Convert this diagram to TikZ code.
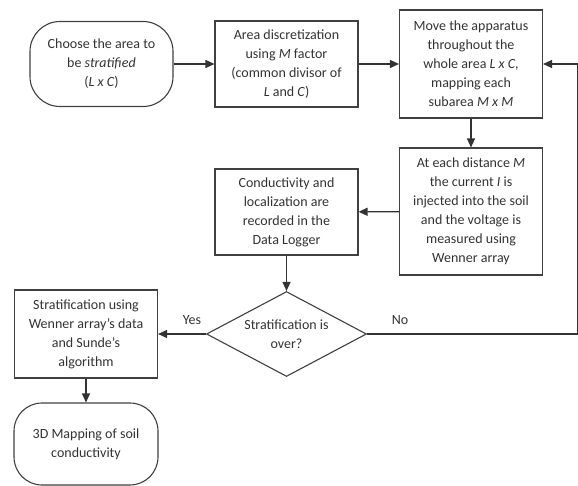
\documentclass[tikz,border=0pt]{standalone}
\usepackage{fontspec}
\setmainfont{Carlito}
\usepackage{tikz}
\usetikzlibrary{shapes.geometric,arrows.meta}
\pgfdeclarelayer{edgelayer}
\pgfdeclarelayer{nodelayer}
\pgfsetlayers{edgelayer,nodelayer,main}
\newcommand{\boxfont}{\fontsize{14}{19}\selectfont}
\tikzstyle{terminal}=[rectangle, rounded corners=30pt, fill=white, draw=black!75, line width=1.1pt, minimum width=143pt, minimum height=85pt, inner sep=0pt, align=center, text=black!80, font=\boxfont]
\tikzstyle{process}=[rectangle, fill=white, draw=black!75, line width=1.1pt, minimum width=143pt, inner sep=0pt, align=center, text=black!80, font=\boxfont]
\tikzstyle{decision}=[diamond, fill=white, draw=black!75, line width=1.1pt, minimum width=160pt, minimum height=85pt, inner sep=-15pt, align=center, text=black!80, font=\boxfont]
\tikzstyle{answer}=[text=black!80, font=\boxfont]
\tikzstyle{flow}=[draw=black!80, line width=1.2pt, -{Triangle[length=9pt,width=8pt]}]

\begin{document}
\begin{tikzpicture}[x=1pt, y=-1pt]
	\useasboundingbox (0,0) rectangle (578,486);
	\begin{pgfonlayer}{nodelayer}

	%top row
		\node [style=terminal] (start) at (101.5,64) {Choose the area to\\be \textit{stratified}\\(\textit{L x C})};
		\node [style=process, minimum height=86pt] (area) at (286.5,64) {Area discretization\\using \textit{M} factor\\(common divisor of\\\textit{L} and \textit{C})};
		\node [style=process, minimum height=108pt] (move) at (471,64) {Move the apparatus\\throughout the\\whole area \textit{L x C},\\mapping each\\subarea \textit{M x M}};

	%measuring
		\node [style=process, minimum height=127pt] (inject) at (471,211.5) {At each distance \textit{M}\\the current \textit{I} is\\injected into the soil\\and the voltage is\\measured using\\Wenner array};
		\node [style=process, minimum height=86pt] (logger) at (286.5,212) {Conductivity and\\localization are\\recorded in the\\Data Logger};
		\node [style=decision] (over) at (286.5,334) {Stratification is\\over?};

	%results
		\node [style=process, minimum height=88pt] (strat) at (86,334) {Stratification using\\Wenner array's data\\and Sunde's\\algorithm};
		\node [style=terminal, rounded corners=28pt, minimum height=82pt, minimum width=144pt] (mapping) at (86,444) {3D Mapping of soil\\conductivity};

		\node [style=answer] (yes) at (192,320) {Yes};
		\node [style=answer] (no) at (400,320) {No};
		\coordinate (back1) at (578,334);
		\coordinate (back2) at (578,64);

	\end{pgfonlayer}
	\begin{pgfonlayer}{edgelayer}

		%flow
		\draw [style=flow] (start) to (area);
		\draw [style=flow] (area) to (move);
		\draw [style=flow] (move) to (inject);
		\draw [style=flow] (inject) to (logger);
		\draw [style=flow] (logger) to (over);
		\draw [style=flow] (over) to (strat);
		\draw [style=flow] (strat) to (mapping);
		\draw [style=flow] (over.east) -- (back1) -- (back2) -- (move.east);

	\end{pgfonlayer}
\end{tikzpicture}
\end{document}
